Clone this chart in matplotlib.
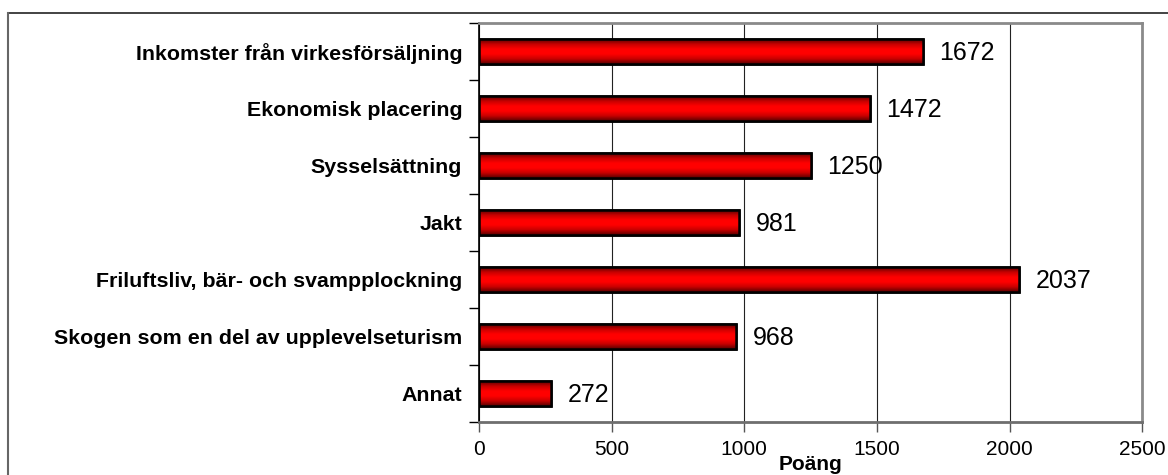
import numpy as np
import matplotlib.pyplot as plt
from matplotlib.colors import LinearSegmentedColormap
from matplotlib.lines import Line2D

categories = ["Inkomster från virkesförsäljning", "Ekonomisk placering", "Sysselsättning",
              "Jakt", "Friluftsliv, bär- och svampplockning",
              "Skogen som en del av upplevelseturism", "Annat"]
points = [1672, 1472, 1250, 981, 2037, 968, 272]
xticks = [0, 500, 1000, 1500, 2000, 2500]

plt.rcParams['font.family'] = ['Liberation Sans', 'DejaVu Sans']

fig = plt.figure(figsize=(11.68, 4.75), dpi=100)
ax = fig.add_axes([0.410, 0.1116, 0.568, 0.840])

y = np.arange(len(categories))[::-1]
bh = 0.43
bars = ax.barh(y, points, height=bh, color="#ff0000", edgecolor="black", linewidth=1.8, zorder=3)

# gradient: mörk kant, ljus mitt
cmap = LinearSegmentedColormap.from_list("redgrad", ["#5a0000", "#c80000", "#ff0000", "#ff0000", "#c80000", "#5a0000"])
grad = np.linspace(0, 1, 64).reshape(-1, 1)
for b, yy, v in zip(bars, y, points):
    im = ax.imshow(grad, cmap=cmap, aspect="auto", extent=(0, v, yy - bh / 2, yy + bh / 2),
                   zorder=3.5, interpolation="bilinear")
    im.set_clip_path(b)
    edge = plt.Rectangle((0, yy - bh / 2), v, bh, fill=False, edgecolor="black", linewidth=1.8, zorder=4)
    ax.add_patch(edge)
    ax.annotate(str(v), (v, yy), xytext=(12, -1), textcoords="offset points",
                va="center", ha="left", fontsize=18, zorder=5)

ax.set_xlim(0, 2500)
ax.set_ylim(-0.5, len(categories) - 0.5)
ax.set_xticks(xticks)
ax.set_xticklabels([str(t) for t in xticks], fontsize=15)
ax.set_yticks(y)
ax.set_yticklabels(categories, fontsize=15.4, fontweight="bold")
ax.tick_params(axis="y", length=0, pad=12)
ax.set_yticks(np.arange(-0.5, len(categories), 1.0), minor=True)
ax.tick_params(axis="y", which="minor", length=7, width=1, direction="out")
ax.tick_params(axis="x", length=7, width=1, direction="out", color="#555555", pad=6)

ax.grid(axis="x", color="#222222", linewidth=0.8, zorder=0)
ax.set_axisbelow(True)

for s in ["top", "right"]:
    ax.spines[s].set_color("#8a8a8a")
    ax.spines[s].set_linewidth(2)
ax.spines["bottom"].set_color("#6e6e6e")
ax.spines["bottom"].set_linewidth(2)
ax.spines["left"].set_color("black")
ax.spines["left"].set_linewidth(1.2)

ax.set_xlabel("Poäng", fontsize=15, fontweight="bold", labelpad=-3)

# yttre ram
fig.add_artist(Line2D([8 / 1168, 1.0], [1 - 13 / 475, 1 - 13 / 475], transform=fig.transFigure,
                      color="#222222", linewidth=1.2))
fig.add_artist(Line2D([8 / 1168, 8 / 1168], [0, 1 - 13 / 475], transform=fig.transFigure,
                      color="#666666", linewidth=1.5))

fig.savefig("out.png", dpi=100)
